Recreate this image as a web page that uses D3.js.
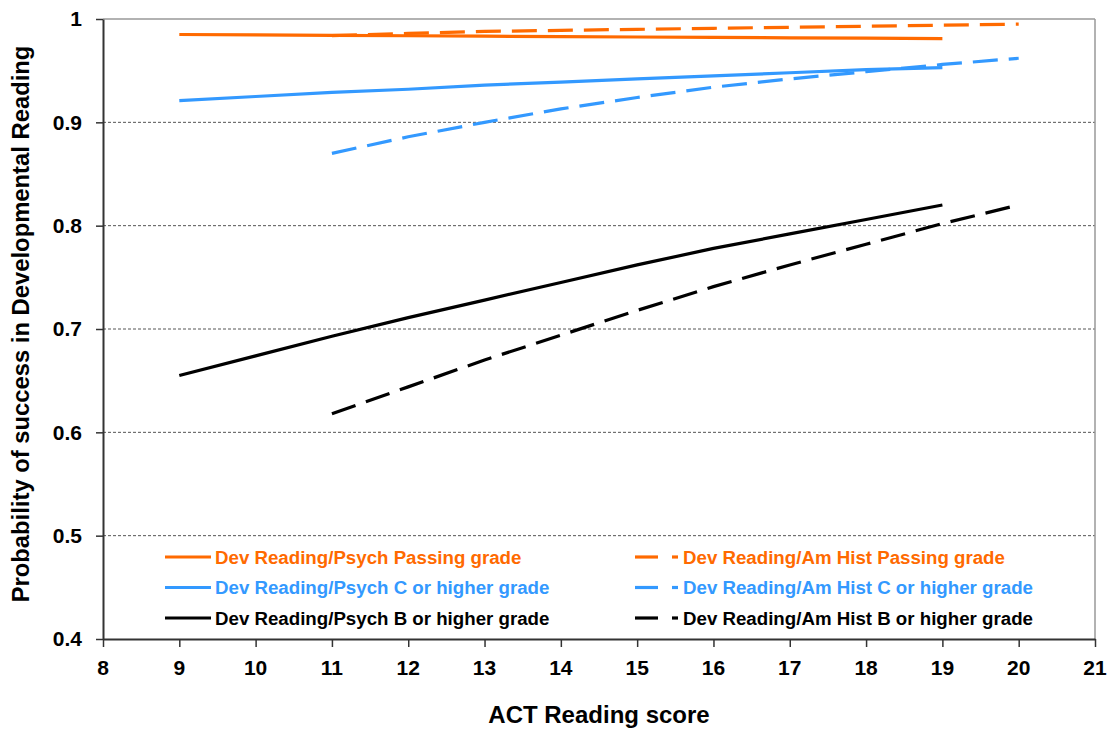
<!DOCTYPE html>
<html><head><meta charset="utf-8">
<script src="https://cdn.jsdelivr.net/npm/d3@7"></script>
<style>
body{margin:0;background:#fff;}
text{font-family:"Liberation Sans",Arial,sans-serif;font-weight:bold;}
</style></head>
<body><svg id="c" width="1110" height="729"></svg>
<script>
const xTicks = [8,9,10,11,12,13,14,15,16,17,18,19,20,21];
const yTicks = [0.4,0.5,0.6,0.7,0.8,0.9,1.0];
const yTickLabels = ["0.4","0.5","0.6","0.7","0.8","0.9","1"];
const psychScores = [9,10,11,12,13,14,15,16,17,18,19];
const histScores = [11,12,13,14,15,16,17,18,19,20];
const psychPassing = [0.985,0.9846,0.9842,0.9838,0.9834,0.983,0.9826,0.9822,0.9818,0.9814,0.981];
const psychC = [0.921,0.925,0.929,0.932,0.936,0.939,0.942,0.945,0.948,0.951,0.953];
const psychB = [0.655,0.674,0.693,0.711,0.728,0.745,0.762,0.778,0.792,0.806,0.820];
const histPassing = [0.984,0.986,0.988,0.989,0.990,0.991,0.992,0.993,0.994,0.995];
const histC = [0.870,0.886,0.900,0.913,0.924,0.934,0.942,0.949,0.956,0.962];
const histB = [0.618,0.644,0.670,0.694,0.718,0.741,0.762,0.782,0.802,0.820];
const seriesNames = [
 "Dev Reading/Psych Passing grade","Dev Reading/Psych C or higher grade","Dev Reading/Psych B or higher grade",
 "Dev Reading/Am Hist Passing grade","Dev Reading/Am Hist C or higher grade","Dev Reading/Am Hist B or higher grade"];
const xTitle = "ACT Reading score";
const yTitle = "Probability of success in Developmental Reading";

const orange="#ff6a00", blue="#3399ff", black="#000";
const series = [
 {name:seriesNames[0], xs:psychScores, ys:psychPassing, color:orange, dash:null},
 {name:seriesNames[1], xs:psychScores, ys:psychC, color:blue, dash:null},
 {name:seriesNames[2], xs:psychScores, ys:psychB, color:black, dash:null},
 {name:seriesNames[3], xs:histScores, ys:histPassing, color:orange, dash:"25,11"},
 {name:seriesNames[4], xs:histScores, ys:histC, color:blue, dash:"25,11"},
 {name:seriesNames[5], xs:histScores, ys:histB, color:black, dash:"25,11"}
];

const svg = d3.select("#c");
const L=103, R=1095, T=19, B=639;
const x = d3.scaleLinear().domain([8,21]).range([L,R]);
const y = d3.scaleLinear().domain([0.4,1]).range([B,T]);

// gridlines
svg.append("g").selectAll("line").data(yTicks.filter(d=>d>0.4 && d<1)).join("line")
  .attr("x1",L).attr("x2",R).attr("y1",d=>y(d)).attr("y2",d=>y(d))
  .attr("stroke","#555").attr("stroke-width",1).attr("stroke-dasharray","3,2");
// top/right border
svg.append("line").attr("x1",L).attr("x2",R).attr("y1",T).attr("y2",T).attr("stroke","#999").attr("stroke-width",1.5);
svg.append("line").attr("x1",R).attr("x2",R).attr("y1",T).attr("y2",B).attr("stroke","#999").attr("stroke-width",1.5);

// axes (ticks via d3 axes, labels drawn with the same scales)
const xa = svg.append("g").attr("transform",`translate(0,${B})`)
  .call(d3.axisBottom(x).tickValues(xTicks).tickFormat(()=>"").tickSize(8).tickSizeOuter(0));
const ya = svg.append("g").attr("transform",`translate(${L},0)`)
  .call(d3.axisLeft(y).tickValues(yTicks).tickFormat(()=>"").tickSize(7).tickSizeOuter(0));
[xa,ya].forEach(a=>{
  a.select(".domain").attr("stroke","#333").attr("stroke-width",2);
  a.selectAll(".tick line").attr("stroke","#333").attr("stroke-width",1.5);
});
svg.append("g").selectAll("text").data(xTicks).join("text")
  .attr("x",d=>x(d)).attr("y",B+36).attr("text-anchor","middle")
  .attr("fill","#000").attr("font-size","21px").text(d=>String(d));
svg.append("g").selectAll("text").data(yTicks).join("text")
  .attr("x",L-21).attr("y",d=>y(d)).attr("dy","0.35em").attr("text-anchor","end")
  .attr("fill","#000").attr("font-size","21px").text((d,i)=>yTickLabels[i]);

// lines
const line = d3.line().x(d=>x(d[0])).y(d=>y(d[1]));
svg.append("g").selectAll("path").data(series).join("path")
  .attr("d",s=>line(s.xs.map((v,i)=>[v,s.ys[i]])))
  .attr("fill","none").attr("stroke",s=>s.color).attr("stroke-width",3.2)
  .attr("stroke-dasharray",s=>s.dash);

// legend
const lg = svg.append("g");
series.forEach((s,i)=>{
  const col = i<3?0:1, row=i%3;
  const yy = 557 + row*30.5;
  const x0 = col===0?165:635;
  if(!s.dash){
    lg.append("line").attr("x1",x0).attr("x2",x0+46).attr("y1",yy).attr("y2",yy).attr("stroke",s.color).attr("stroke-width",3.2);
  } else {
    lg.append("line").attr("x1",x0).attr("x2",x0+23).attr("y1",yy).attr("y2",yy).attr("stroke",s.color).attr("stroke-width",3.2);
    lg.append("line").attr("x1",x0+37).attr("x2",x0+43).attr("y1",yy).attr("y2",yy).attr("stroke",s.color).attr("stroke-width",3.2);
  }
  lg.append("text").attr("x",col===0?215:683).attr("y",yy).attr("dy","0.36em")
    .attr("fill",s.color).attr("font-size","18.7px").text(s.name);
});

// titles
svg.append("text").attr("x",(L+R)/2).attr("y",723).attr("text-anchor","middle").attr("font-size","24px").attr("fill","#000").text(xTitle);
svg.append("text").attr("transform",`translate(29,324) rotate(-90)`).attr("text-anchor","middle").attr("font-size","23.8px").attr("fill","#000").text(yTitle);
</script></body></html>
